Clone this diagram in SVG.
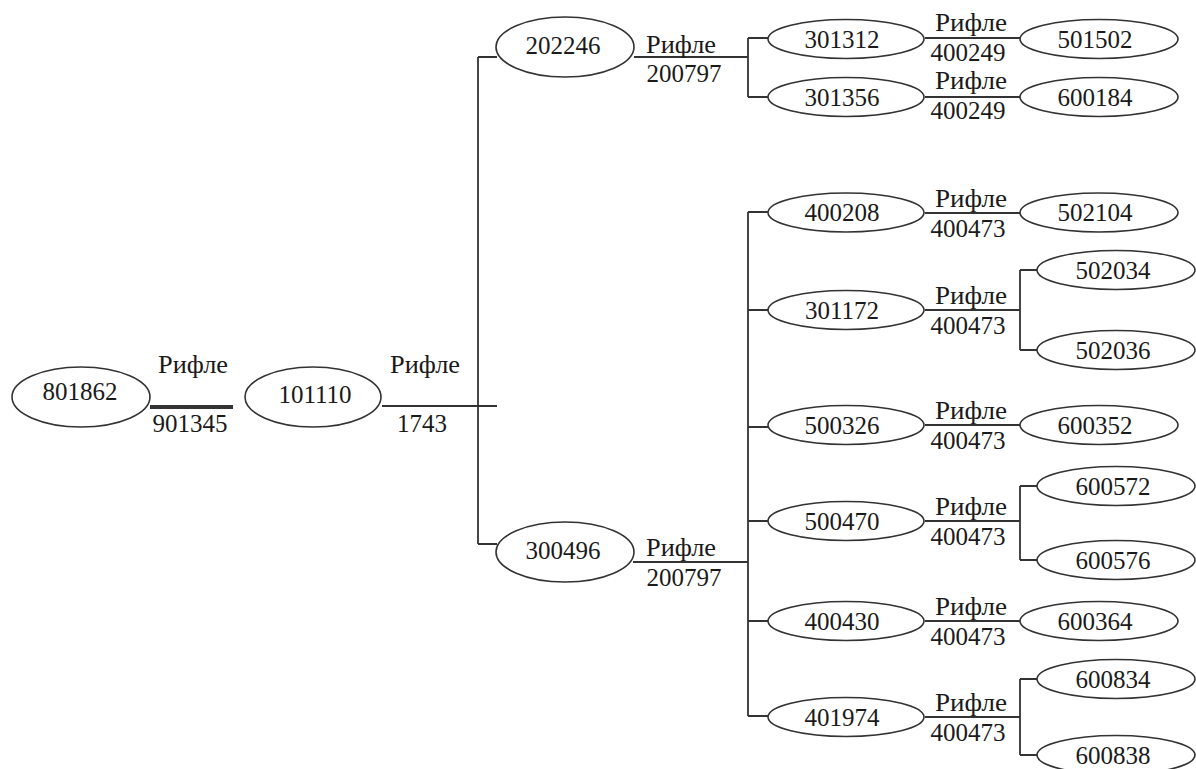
<svg xmlns="http://www.w3.org/2000/svg" width="1196" height="769" viewBox="0 0 1196 769">
<style>
.n ellipse{fill:#fff;stroke:#333;stroke-width:1.6}
text{font-family:'Liberation Serif','Tinos','DejaVu Serif',serif;font-size:25px;fill:#1a1a1a;text-anchor:middle}
.c path{fill:none;stroke:#333;stroke-width:1.8}
.c path.thick{stroke-width:4}
</style>
<rect width="1196" height="769" fill="#fff"/>
<g class="c" id="connectors">
<path class="thick" d="M150 407H233"/>
<path d="M382 406H497"/>
<path d="M478 57V544"/>
<path d="M478 57H497M478 544H497"/>
<path d="M634 57H748M748 38V97M748 38H768M748 97H768"/>
<path d="M633 562H748M748 212V716"/>
<path d="M748 212H768M748 310H768M748 427H768M748 521H768M748 621H768M748 716H768"/>
<path d="M925 38H1020M925 97H1020"/>
<path d="M925 213H1020M925 425H1020M925 621H1020"/>
<path d="M925 310H1020M1020 270V350M1020 270H1038M1020 350H1038"/>
<path d="M925 521H1020M1020 486V560M1020 486H1038M1020 560H1038"/>
<path d="M925 717H1020M1020 679V755M1020 679H1038M1020 755H1038"/>
</g>
<g id="labels">
<text x="193" y="373" textLength="70" lengthAdjust="spacingAndGlyphs">Рифле</text><text x="190" y="432">901345</text>
<text x="425" y="373" textLength="70" lengthAdjust="spacingAndGlyphs">Рифле</text><text x="422" y="432">1743</text>
<text x="681" y="53" textLength="70" lengthAdjust="spacingAndGlyphs">Рифле</text><text x="684" y="82">200797</text>
<text x="681" y="556" textLength="70" lengthAdjust="spacingAndGlyphs">Рифле</text><text x="684" y="586">200797</text>
<text x="971" y="31" textLength="72" lengthAdjust="spacingAndGlyphs">Рифле</text><text x="968" y="61">400249</text>
<text x="971" y="89" textLength="72" lengthAdjust="spacingAndGlyphs">Рифле</text><text x="968" y="119">400249</text>
<text x="971" y="207" textLength="72" lengthAdjust="spacingAndGlyphs">Рифле</text><text x="968" y="237">400473</text>
<text x="971" y="304" textLength="72" lengthAdjust="spacingAndGlyphs">Рифле</text><text x="968" y="334">400473</text>
<text x="971" y="419" textLength="72" lengthAdjust="spacingAndGlyphs">Рифле</text><text x="968" y="449">400473</text>
<text x="971" y="515" textLength="72" lengthAdjust="spacingAndGlyphs">Рифле</text><text x="968" y="545">400473</text>
<text x="971" y="615" textLength="72" lengthAdjust="spacingAndGlyphs">Рифле</text><text x="968" y="645">400473</text>
<text x="971" y="711" textLength="72" lengthAdjust="spacingAndGlyphs">Рифле</text><text x="968" y="741">400473</text>
</g>
<g class="n" id="n801862"><ellipse cx="81" cy="397" rx="69" ry="30"/><text x="80" y="400">801862</text></g>
<g class="n" id="n101110"><ellipse cx="313" cy="397" rx="68" ry="30"/><text x="315" y="403">101110</text></g>
<g class="n" id="n202246"><ellipse cx="565" cy="47" rx="69" ry="30"/><text x="563" y="54">202246</text></g>
<g class="n" id="n300496"><ellipse cx="565" cy="552" rx="69" ry="30"/><text x="563" y="559">300496</text></g>
<g class="n" id="n301312"><ellipse cx="846" cy="39" rx="78" ry="19.5"/><text x="842" y="48">301312</text></g>
<g class="n" id="n301356"><ellipse cx="846" cy="97" rx="78" ry="19.5"/><text x="842" y="106">301356</text></g>
<g class="n" id="n501502"><ellipse cx="1099" cy="39" rx="79" ry="19.5"/><text x="1095" y="48">501502</text></g>
<g class="n" id="n600184"><ellipse cx="1099" cy="97" rx="79" ry="19.5"/><text x="1095" y="106">600184</text></g>
<g class="n" id="n400208"><ellipse cx="846" cy="212.5" rx="78" ry="19.5"/><text x="842" y="221">400208</text></g>
<g class="n" id="n502104"><ellipse cx="1099" cy="212.5" rx="79" ry="19.5"/><text x="1095" y="221">502104</text></g>
<g class="n" id="n301172"><ellipse cx="846" cy="310" rx="78" ry="19.5"/><text x="842" y="319">301172</text></g>
<g class="n" id="n502034"><ellipse cx="1116" cy="270" rx="79" ry="19.5"/><text x="1113" y="279">502034</text></g>
<g class="n" id="n502036"><ellipse cx="1116" cy="350" rx="79" ry="19.5"/><text x="1113" y="359">502036</text></g>
<g class="n" id="n500326"><ellipse cx="846" cy="425" rx="78" ry="19.5"/><text x="842" y="434">500326</text></g>
<g class="n" id="n600352"><ellipse cx="1099" cy="425" rx="79" ry="19.5"/><text x="1095" y="434">600352</text></g>
<g class="n" id="n500470"><ellipse cx="846" cy="521" rx="78" ry="19.5"/><text x="842" y="530">500470</text></g>
<g class="n" id="n600572"><ellipse cx="1116" cy="486" rx="79" ry="19.5"/><text x="1113" y="495">600572</text></g>
<g class="n" id="n600576"><ellipse cx="1116" cy="560" rx="79" ry="19.5"/><text x="1113" y="569">600576</text></g>
<g class="n" id="n400430"><ellipse cx="846" cy="621" rx="78" ry="19.5"/><text x="842" y="630">400430</text></g>
<g class="n" id="n600364"><ellipse cx="1099" cy="621" rx="79" ry="19.5"/><text x="1095" y="630">600364</text></g>
<g class="n" id="n401974"><ellipse cx="846" cy="717" rx="78" ry="19.5"/><text x="842" y="726">401974</text></g>
<g class="n" id="n600834"><ellipse cx="1116" cy="679" rx="79" ry="19.5"/><text x="1113" y="688">600834</text></g>
<g class="n" id="n600838"><ellipse cx="1116" cy="755" rx="79" ry="19.5"/><text x="1113" y="764">600838</text></g>
</svg>
